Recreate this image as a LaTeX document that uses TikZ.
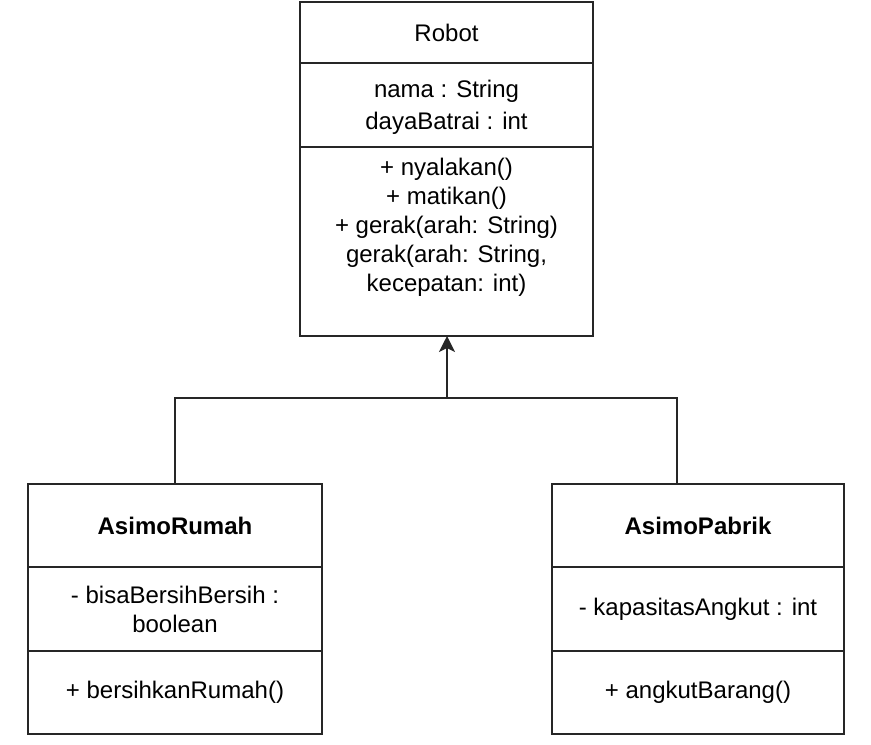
\documentclass[tikz,border=0pt]{standalone}
\usepackage{fontspec}
\setmainfont{Liberation Sans}
\usetikzlibrary{arrows.meta}
\tikzset{
  comp/.style={draw=black!85, line width=1pt, anchor=north, inner sep=0pt, outer sep=0pt,
    align=center, font=\fontsize{12}{14.5}\selectfont},
  conn/.style={draw=black!85, line width=1pt},
}
\begin{document}
\begin{tikzpicture}[x=0.5pt,y=-0.5pt]
\useasboundingbox (0,0) rectangle (871,744);
% Robot
\node[comp, minimum width=146.5pt, minimum height=30.5pt] (robotName) at (446.5,2) {Robot};
\node[comp, minimum width=146.5pt, minimum height=42pt] (robotAttr) at (robotName.south) {};
\node[align=center, inner sep=0pt, font=\fontsize{12}{14.5}\selectfont] (robotAttrText) at (446.5,107)
  {nama : String\\[1.5pt]dayaBatrai : int};
\node[comp, minimum width=146.5pt, minimum height=94.5pt] (robotMeth) at (robotAttr.south) {};
\node[align=center, anchor=north, inner sep=0pt, font=\fontsize{12}{14.5}\selectfont] (robotMethText) at (446.5,158)
  {+ nyalakan()\\+ matikan()\\+ gerak(arah: String)\\gerak(arah: String,\\kecepatan: int)};
% AsimoRumah
\node[comp, minimum width=147pt, minimum height=41.5pt, font=\bfseries\fontsize{12}{14.5}\selectfont] (rumahName) at (175,484) {AsimoRumah};
\node[comp, minimum width=147pt, minimum height=42pt] (rumahAttr) at (rumahName.south) {- bisaBersihBersih :\\boolean};
\node[comp, minimum width=147pt, minimum height=41.5pt] (rumahMeth) at (rumahAttr.south) {+ bersihkanRumah()};
% AsimoPabrik
\node[comp, minimum width=146pt, minimum height=41.5pt, font=\bfseries\fontsize{12}{14.5}\selectfont] (pabrikName) at (698,484) {AsimoPabrik};
\node[comp, minimum width=146pt, minimum height=42pt] (pabrikAttr) at (pabrikName.south) {- kapasitasAngkut : int};
\node[comp, minimum width=146pt, minimum height=41.5pt] (pabrikMeth) at (pabrikAttr.south) {+ angkutBarang()};
% connectors
\coordinate (j) at (447,398);
\coordinate (pabrikTop) at (677,484);
\coordinate (robotBottom) at (447,336);
\draw[conn] (rumahName.north) |- (j);
\draw[conn] (pabrikTop) |- (j);
\draw[conn, -{Stealth[length=8pt, width=8pt, inset=2pt]}] (j) -- (robotBottom);
\end{tikzpicture}
\end{document}
